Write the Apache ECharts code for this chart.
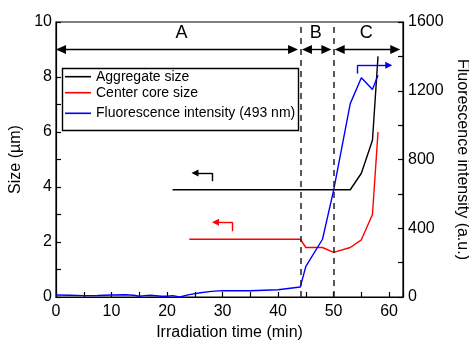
<!DOCTYPE html>
<html>
<head>
<meta charset="utf-8">
<script src="https://cdn.jsdelivr.net/npm/echarts@6/dist/echarts.min.js"></script>
<style>
html,body{margin:0;padding:0;background:#fff;}
#chart{width:469px;height:341px;}
</style>
</head>
<body>
<div id="chart"></div>
<script>
// ---- data ----
var aggregateTime = [21, 44, 50, 53, 55, 57, 58];
var aggregateSize = [3.9, 3.9, 3.9, 3.9, 4.5, 5.7, 8.75];

var coreTime = [24, 44, 45, 48, 50, 53, 55, 57, 58];
var coreSize = [2.1, 2.1, 1.8, 1.8, 1.62, 1.8, 2.08, 3.0, 6.0];

var fluoTime = [0, 2.5, 5, 7.5, 10, 12.5, 14, 15, 16, 17, 18, 19, 20, 21, 22.3, 24, 26, 28, 30, 35, 40, 44, 45, 48, 50, 53, 55, 57, 58];
var fluoValue = [12, 10, 8, 9, 12, 13, 10, 4, 8, 10, 7, 4, 4, 8, 0, 14, 25, 33, 37, 36, 42, 58, 178, 336, 620, 1125, 1276, 1207, 1290];

var phaseBounds = [44, 50];
var phaseNames = ['A', 'B', 'C'];
var phaseArrowSpans = [[0, 43.6], [44.3, 49.6], [50.2, 62.0]];
var phaseLabelPos = [[22.6, 9.59], [46.8, 9.59], [55.9, 9.59]];
var phaseArrowY = 9.0;

var seriesNames = ['Aggregate size', 'Center core size', 'Fluorescence intensity (493 nm)'];

// L-shaped pointer arrows: [cornerX, bottomY, topY, tipX]
var aggArrow = [28.1, 4.21, 4.51, 24.4];
var coreArrow = [31.8, 2.39, 2.72, 28.1];
var fluoArrow = [54.3, 1300, 1348, 59.3];

var xTickLabels = [0, 10, 20, 30, 40, 50, 60];

function zip(a, b) { return a.map(function (v, i) { return [v, b[i]]; }); }

var xPerPx = 62.5 / 346.7;
var headHalf = 5 * xPerPx;

function phaseArrows() {
  return phaseArrowSpans.map(function (s) {
    return [
      { coord: [s[0] + headHalf, phaseArrowY], symbol: 'triangle', symbolSize: [9, 10] },
      { coord: [s[1] - headHalf, phaseArrowY], symbol: 'triangle', symbolSize: [9, 10] }
    ];
  });
}

function pointer(a) {
  var h = 3.5 * xPerPx;
  return [
    [{ coord: [a[0], a[1]], symbol: 'none' }, { coord: [a[0], a[2]], symbol: 'none' }],
    [{ coord: [a[0], a[2]], symbol: 'none' }, { coord: [a[3] + h, a[2]], symbol: 'triangle', symbolSize: [7, 7] }]
  ];
}

var chart = echarts.init(document.getElementById('chart'), null, { renderer: 'canvas' });

var axisCommon = {
  axisLine: { show: true, lineStyle: { color: '#000', width: 1.2 } },
  axisTick: { show: true, inside: true, length: 5, lineStyle: { color: '#000', width: 1.2 } },
  splitLine: { show: false },
  nameTextStyle: { fontSize: 16, color: '#000' }
};

var legendCommon = {
  orient: 'vertical', left: 65, padding: 0, icon: 'rect',
  itemWidth: 26, itemHeight: 1.6, itemGap: 0, selectedMode: false,
  textStyle: { fontSize: 14, color: '#000', lineHeight: 16 }
};

var option = {
  animation: false,
  textStyle: { fontFamily: 'Liberation Sans, Arial, sans-serif' },
  grid: { left: 56, right: 66, top: 22, bottom: 44, show: true, borderColor: '#000', borderWidth: 1.2,
          outerBoundsMode: 'none', containLabel: false },
  legend: [
    Object.assign({}, legendCommon, { data: [seriesNames[0], seriesNames[1]], top: 68.7 }),
    Object.assign({}, legendCommon, { data: [seriesNames[2]], top: 105.3 })
  ],
  graphic: [
    { type: 'rect', left: 60, top: 66, shape: { width: 236, height: 62 },
      style: { fill: 'none', stroke: '#000', lineWidth: 1.4 }, silent: true, z: 1 }
  ],
  xAxis: Object.assign({}, axisCommon, {
    type: 'value', min: 0, max: 62.5, interval: 5,
    name: 'Irradiation time (min)', nameLocation: 'middle', nameGap: 25,
    axisLabel: {
      fontSize: 16, color: '#000', margin: 7,
      formatter: function (v) { return xTickLabels.indexOf(v) >= 0 ? String(v) : ''; }
    }
  }),
  yAxis: [
    Object.assign({}, axisCommon, {
      type: 'value', min: 0, max: 10, interval: 1, position: 'left',
      name: 'Size (\u00b5m)', nameLocation: 'middle', nameGap: 28,
      axisLabel: {
        fontSize: 16, color: '#000', margin: 4,
        formatter: function (v) { return v % 2 === 0 ? String(v) : ''; }
      }
    }),
    Object.assign({}, axisCommon, {
      type: 'value', min: 0, max: 1600, interval: 200, position: 'right',
      name: 'Fluorescence intensity (a.u.)', nameLocation: 'middle', nameGap: 48, nameRotate: -90,
      axisLabel: {
        fontSize: 16, color: '#000', margin: 5,
        formatter: function (v) { return v % 400 === 0 ? String(v) : ''; }
      }
    })
  ],
  series: [
    {
      name: seriesNames[0], type: 'line', yAxisIndex: 0, symbol: 'none',
      data: zip(aggregateTime, aggregateSize),
      lineStyle: { color: '#000', width: 1.4 }, itemStyle: { color: '#000' },
      markLine: {
        silent: true, symbol: 'none', label: { show: false },
        lineStyle: { color: '#000', width: 1.4, type: 'solid' },
        data: phaseArrows().concat(pointer(aggArrow)).concat(
          phaseBounds.map(function (b) {
            return { xAxis: b, lineStyle: { type: [6, 5], width: 1.5, color: '#222' } };
          })
        )
      },
      markPoint: {
        silent: true, symbol: 'circle', symbolSize: 0,
        label: { show: true, position: 'inside', fontSize: 18, color: '#000' },
        data: phaseNames.map(function (n, i) {
          return { coord: phaseLabelPos[i], value: n, label: { formatter: n } };
        })
      }
    },
    {
      name: seriesNames[1], type: 'line', yAxisIndex: 0, symbol: 'none',
      data: zip(coreTime, coreSize),
      lineStyle: { color: '#ff0000', width: 1.4 }, itemStyle: { color: '#ff0000' },
      markLine: {
        silent: true, symbol: 'none', label: { show: false },
        lineStyle: { color: '#ff0000', width: 1.4, type: 'solid' },
        data: pointer(coreArrow)
      }
    },
    {
      name: seriesNames[2], type: 'line', yAxisIndex: 1, symbol: 'none',
      data: zip(fluoTime, fluoValue),
      lineStyle: { color: '#0000ff', width: 1.4 }, itemStyle: { color: '#0000ff' },
      markLine: {
        silent: true, symbol: 'none', label: { show: false },
        lineStyle: { color: '#0000ff', width: 1.4, type: 'solid' },
        data: pointer(fluoArrow)
      }
    }
  ]
};
chart.setOption(option);
</script>
</body>
</html>
